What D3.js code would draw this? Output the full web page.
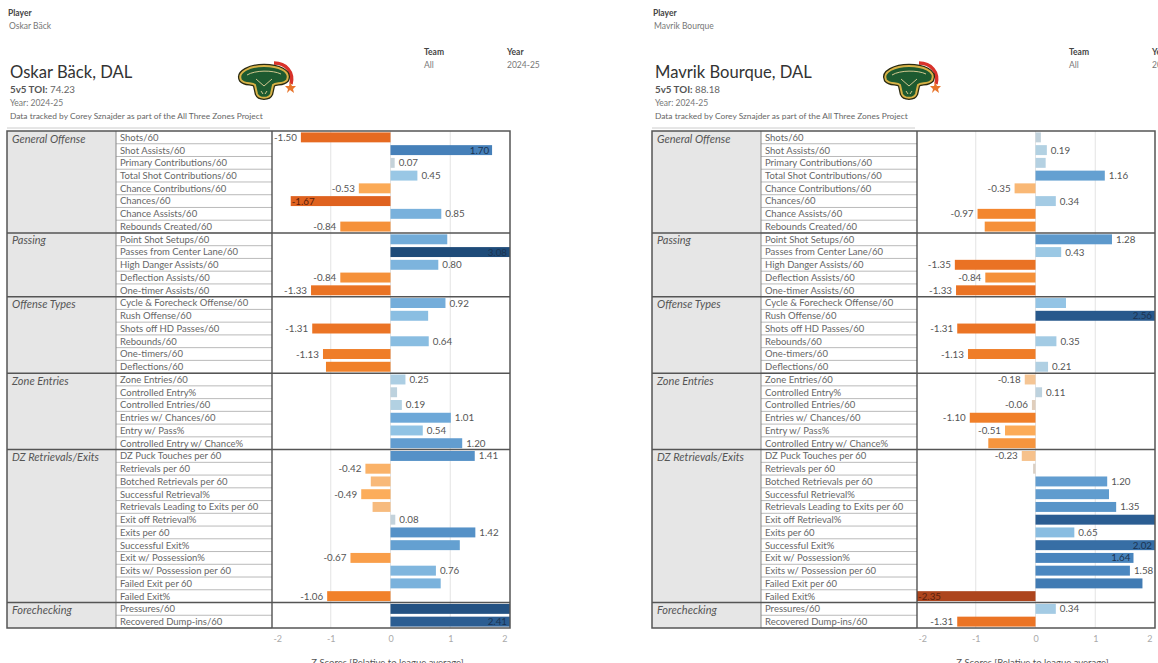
<!DOCTYPE html>
<html>
<head>
<meta charset="utf-8">
<script src="https://cdn.jsdelivr.net/npm/d3@7"></script>
<style>
  body { margin: 0; background: #fff; }
  svg { display: block; font-family: Lato, "Open Sans", sans-serif; }
</style>
</head>
<body>
<div id="chart"></div>
<script>
// ---- data ----
const players = ["Oskar Bäck", "Mavrik Bourque"];
const teams = ["DAL", "DAL"];
const toi = [74.23, 88.18];
const season = "2024-25";
const credit = "Data tracked by Corey Sznajder as part of the All Three Zones Project";

const groups = ["General Offense", "Passing", "Offense Types", "Zone Entries", "DZ Retrievals/Exits", "Forechecking"];
const groupCounts = [8, 5, 6, 6, 12, 2];

const metrics = [
  "Shots/60", "Shot Assists/60", "Primary Contributions/60", "Total Shot Contributions/60",
  "Chance Contributions/60", "Chances/60", "Chance Assists/60", "Rebounds Created/60",
  "Point Shot Setups/60", "Passes from Center Lane/60", "High Danger Assists/60",
  "Deflection Assists/60", "One-timer Assists/60",
  "Cycle & Forecheck Offense/60", "Rush Offense/60", "Shots off HD Passes/60",
  "Rebounds/60", "One-timers/60", "Deflections/60",
  "Zone Entries/60", "Controlled Entry%", "Controlled Entries/60",
  "Entries w/ Chances/60", "Entry w/ Pass%", "Controlled Entry w/ Chance%",
  "DZ Puck Touches per 60", "Retrievals per 60", "Botched Retrievals per 60",
  "Successful Retrieval%", "Retrievals Leading to Exits per 60", "Exit off Retrieval%",
  "Exits per 60", "Successful Exit%", "Exit w/ Possession%", "Exits w/ Possession per 60",
  "Failed Exit per 60", "Failed Exit%",
  "Pressures/60", "Recovered Dump-ins/60"
];

const backValues = [
  -1.50, 1.70, 0.07, 0.45, -0.53, -1.67, 0.85, -0.84,
  0.95, 3.08, 0.80, -0.84, -1.33,
  0.92, 0.63, -1.31, 0.64, -1.13, -1.08,
  0.25, 0.11, 0.19, 1.01, 0.54, 1.20,
  1.41, -0.42, -0.33, -0.49, -0.30, 0.08, 1.42, 1.16, -0.67, 0.76, 0.84, -1.06,
  2.80, 2.41
];
const backNoLabel = [
  "Point Shot Setups/60", "Rush Offense/60", "Deflections/60", "Controlled Entry%",
  "Botched Retrievals per 60", "Retrievals Leading to Exits per 60",
  "Successful Exit%", "Failed Exit per 60", "Pressures/60"
];

const bourqueValues = [
  0.09, 0.19, 0.17, 1.16, -0.35, 0.34, -0.97, -0.85,
  1.28, 0.43, -1.35, -0.84, -1.33,
  0.51, 2.56, -1.31, 0.35, -1.13, 0.21,
  -0.18, 0.11, -0.06, -1.10, -0.51, -0.79,
  -0.23, -0.04, 1.20, 1.23, 1.35, 2.40, 0.65, 2.02, 1.64, 1.58, 1.79, -2.35,
  0.34, -1.31
];
const bourqueNoLabel = [
  "Shots/60", "Primary Contributions/60", "Rebounds Created/60",
  "Cycle & Forecheck Offense/60", "Controlled Entry w/ Chance%",
  "Retrievals per 60", "Successful Retrieval%", "Exit off Retrieval%", "Failed Exit per 60"
];

const xTicks = [-2, -1, 0, 1, 2];
const axisTitle = "Z Scores [Relative to league average]";

// ---- layout ----
const W = 1158, H = 663;
const panelShift = 645;
const colCat = 7, colMetric = 116, colChart = 272, colEnd = 510;
const tableTop = 131, tableBottom = 628;

const svg = d3.select("#chart").append("svg")
  .attr("width", W).attr("height", H);

const x = d3.scaleLinear().domain([-2, 2]).range([colChart - 1, colEnd]);
const y = d3.scaleBand().domain(metrics).range([tableTop, tableBottom]);

const color = d3.scaleLinear()
  .domain([-2.5, -1.6, -1.0, -0.5, -0.15, 0, 0.15, 0.5, 1.0, 1.6, 2.2, 3.1])
  .range(["#a23f1d", "#e4651f", "#f2842b", "#fcac59", "#f4c79a", "#d2d2d2",
          "#b6d2e2", "#94c5e5", "#6ea9d8", "#4a86bf", "#2f639a", "#1e4a78"])
  .clamp(true);

const locale = d3.formatLocale({ decimal: ".", thousands: ",", grouping: [3], currency: ["", ""], minus: "-" });
const fmt = locale.format(".2f");
const tickFmt = locale.format("d");

// group boundaries
let acc = 0;
const groupRows = groups.map((g, i) => {
  const first = metrics[acc];
  const last = metrics[acc + groupCounts[i] - 1];
  acc += groupCounts[i];
  return { name: g, y0: y(first), y1: y(last) + y.bandwidth() };
});

const drawLogo = (g, cx, cy) => {
  const logo = g.append("g").attr("transform", `translate(${cx},${cy})`);
  logo.append("path")
    .attr("d", "M10,-16 C22,-16 30,-7 27,5")
    .attr("fill", "none").attr("stroke", "#d8322a").attr("stroke-width", 3.5);
  logo.append("path")
    .attr("d", "M-23,1 C-27,-7 -14,-13 0,-13 C14,-13 27,-8 23,1 C19,6 12,3 9,6 L7,15 C5,20 -5,20 -7,15 L-9,6 C-12,3 -19,6 -23,1 Z")
    .attr("fill", "#1d5a30").attr("stroke", "#2a2a10").attr("stroke-width", 4.5);
  logo.append("path")
    .attr("d", "M-23,1 C-27,-7 -14,-13 0,-13 C14,-13 27,-8 23,1 C19,6 12,3 9,6 L7,15 C5,20 -5,20 -7,15 L-9,6 C-12,3 -19,6 -23,1 Z")
    .attr("fill", "#1d5a30").attr("stroke", "#d7b247").attr("stroke-width", 2);
  logo.append("path")
    .attr("d", "M-17,-4 C-9,-9 9,-9 17,-5")
    .attr("fill", "none").attr("stroke", "#e6d49a").attr("stroke-width", 0.9);
  logo.append("path")
    .attr("d", "M-8,0 L0,7 L8,0 M-3,12 L-1,15 M3,12 L1,15")
    .attr("fill", "none").attr("stroke", "#e6d49a").attr("stroke-width", 0.9);
  logo.append("path")
    .attr("d", "M26,3 L28,7 L32,7 L29,10 L30,14 L26,11 L23,14 L24,10 L21,7 L25,7 Z")
    .attr("fill", "#e8742a");
};

const drawPanel = (idx, values, noLabel) => {
  const g = svg.append("g").attr("transform", `translate(${idx * panelShift},0)`);

  // header
  g.append("text").attr("x", 8).attr("y", 16).attr("font-size", 8.5)
    .attr("font-weight", "bold").attr("fill", "#444").text("Player");
  g.append("text").attr("x", 9).attr("y", 29).attr("font-size", 8.5)
    .attr("fill", "#777").text(players[idx]);
  g.append("text").attr("x", 424).attr("y", 55).attr("font-size", 8.5)
    .attr("font-weight", "bold").attr("fill", "#444").text("Team");
  g.append("text").attr("x", 424).attr("y", 68).attr("font-size", 8.5)
    .attr("fill", "#777").text("All");
  g.append("text").attr("x", 507).attr("y", 55).attr("font-size", 8.5)
    .attr("font-weight", "bold").attr("fill", "#444").text("Year");
  g.append("text").attr("x", 507).attr("y", 68).attr("font-size", 8.5)
    .attr("fill", "#777").text(season);

  g.append("text").attr("x", 10).attr("y", 78).attr("font-size", 16.6)
    .attr("fill", "#333").text(`${players[idx]}, ${teams[idx]}`);
  const toiT = g.append("text").attr("x", 10).attr("y", 93).attr("font-size", 9.8).attr("fill", "#555");
  toiT.append("tspan").attr("font-weight", "bold").text("5v5 TOI: ");
  toiT.append("tspan").attr("fill", "#666").text(fmt(toi[idx]));
  g.append("text").attr("x", 10).attr("y", 106).attr("font-size", 8.5)
    .attr("fill", "#777").text(`Year: ${season}`);
  g.append("text").attr("x", 10).attr("y", 119).attr("font-size", 8.4)
    .attr("fill", "#666").text(credit);
  g.append("line").attr("x1", 7).attr("x2", 270).attr("y1", 128).attr("y2", 128)
    .attr("stroke", "#ccc");

  drawLogo(g, 264, 79);

  // category column
  g.selectAll(".cat").data(groupRows).enter().append("rect")
    .attr("x", colCat).attr("y", d => d.y0)
    .attr("width", colMetric - colCat).attr("height", d => d.y1 - d.y0)
    .attr("fill", "#e6e6e6");
  g.selectAll(".catText").data(groupRows).enter().append("text")
    .attr("x", colCat + 5).attr("y", d => d.y0 + 11.5)
    .attr("font-size", 11).attr("font-style", "italic").attr("fill", "#555")
    .text(d => d.name);

  // metric rows
  g.selectAll(".rowline").data(metrics).enter().append("line")
    .attr("x1", colMetric).attr("x2", colChart)
    .attr("y1", d => y(d) + y.bandwidth()).attr("y2", d => y(d) + y.bandwidth())
    .attr("stroke", "#a8a8a8").attr("stroke-width", 0.8);
  g.selectAll(".metricText").data(metrics).enter().append("text")
    .attr("x", colMetric + 4).attr("y", d => y(d) + y.bandwidth() / 2 + 3.4)
    .attr("font-size", 9.5).attr("fill", "#666")
    .text(d => d);

  // gridlines
  g.selectAll(".grid").data(xTicks.filter(t => t > -2 && t < 2)).enter().append("line")
    .attr("x1", d => x(d)).attr("x2", d => x(d))
    .attr("y1", tableTop).attr("y2", tableBottom)
    .attr("stroke", "#e3e3e3").attr("stroke-width", 1);

  // bars
  const clip = `clip${idx}`;
  g.append("clipPath").attr("id", clip).append("rect")
    .attr("x", colChart).attr("y", tableTop).attr("width", colEnd - colChart).attr("height", tableBottom - tableTop);
  const rows = metrics.map((m, i) => ({ m, v: values[i], show: !noLabel.includes(m) }));
  const bh = y.bandwidth() * 0.78;
  const bars = g.append("g").attr("clip-path", `url(#${clip})`);
  bars.selectAll("rect").data(rows).enter().append("rect")
    .attr("x", d => x(Math.min(0, d.v)))
    .attr("y", d => y(d.m) + (y.bandwidth() - bh) / 2)
    .attr("width", d => Math.abs(x(d.v) - x(0)))
    .attr("height", bh)
    .attr("fill", d => color(d.v));

  bars.selectAll("text").data(rows.filter(d => d.show)).enter().append("text")
    .attr("y", d => y(d.m) + y.bandwidth() / 2 + 3.5)
    .attr("font-size", 9.8)
    .each(function (d) {
      const inside = Math.abs(d.v) > 1.6;
      const end = Math.max(colChart, Math.min(colEnd, x(d.v)));
      const t = d3.select(this);
      if (inside) {
        t.attr("x", d.v > 0 ? end - 3 : end + 1)
          .attr("text-anchor", d.v > 0 ? "end" : "start")
          .attr("fill", d.v > 0 ? "#1c3350" : "#5a200c");
      } else {
        t.attr("x", d.v > 0 ? end + 4 : end - 4)
          .attr("text-anchor", d.v > 0 ? "start" : "end")
          .attr("fill", "#555");
      }
    })
    .text(d => fmt(d.v));

  // borders
  g.append("line").attr("x1", colMetric).attr("x2", colMetric).attr("y1", tableTop).attr("y2", tableBottom)
    .attr("stroke", "#888").attr("stroke-width", 1);
  g.append("line").attr("x1", colChart).attr("x2", colChart).attr("y1", tableTop).attr("y2", tableBottom)
    .attr("stroke", "#444").attr("stroke-width", 1.3);
  g.selectAll(".sep").data(groupRows.slice(1)).enter().append("line")
    .attr("x1", colCat).attr("x2", colEnd)
    .attr("y1", d => d.y0).attr("y2", d => d.y0)
    .attr("stroke", "#555").attr("stroke-width", 1.5);
  g.append("rect").attr("x", colCat).attr("y", tableTop)
    .attr("width", colEnd - colCat).attr("height", tableBottom - tableTop)
    .attr("fill", "none").attr("stroke", "#555").attr("stroke-width", 1.5);

  // axis
  const axis = g.append("g").attr("transform", `translate(0,${tableBottom})`)
    .call(d3.axisBottom(x).tickValues(xTicks).tickSize(0).tickPadding(8).tickFormat(tickFmt));
  axis.select(".domain").remove();
  axis.selectAll("text").attr("font-size", 9).attr("fill", "#aaa")
    .attr("font-family", "Lato, 'Open Sans', sans-serif")
    .attr("text-anchor", (d, i) => i === 0 ? "start" : i === xTicks.length - 1 ? "end" : "middle")
    .attr("dx", (d, i) => i === 0 ? 2 : i === xTicks.length - 1 ? -3 : 0);
  g.append("text").attr("x", x(0) - 3).attr("y", 666).attr("text-anchor", "middle")
    .attr("font-size", 9.5).attr("fill", "#555").text(axisTitle);
};

drawPanel(0, backValues, backNoLabel);
drawPanel(1, bourqueValues, bourqueNoLabel);
</script>
</body>
</html>
